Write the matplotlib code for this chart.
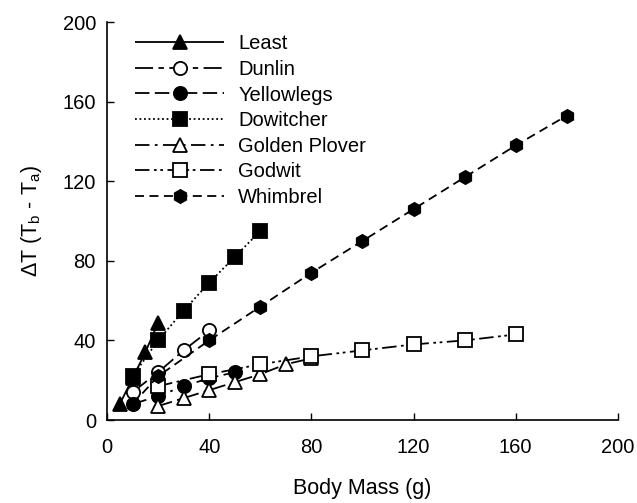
import matplotlib
matplotlib.use("Agg")
import matplotlib.pyplot as plt

plt.rcParams['font.family'] = ['Liberation Sans', 'DejaVu Sans']
plt.rcParams['mathtext.fontset'] = 'custom'
plt.rcParams['mathtext.rm'] = 'Liberation Sans'
plt.rcParams['mathtext.it'] = 'Liberation Sans:italic'

least_x = [5, 10, 15, 20]
least_y = [8, 21, 34, 49]
dunlin_x = [10, 20, 30, 40]
dunlin_y = [14, 24, 35, 45]
yellowlegs_x = [10, 20, 30, 40, 50]
yellowlegs_y = [8, 12, 17, 21, 24]
dowitcher_x = [10, 20, 30, 40, 50, 60]
dowitcher_y = [22, 40, 55, 69, 82, 95]
plover_x = [20, 30, 40, 50, 60, 70, 80]
plover_y = [7, 11, 15, 19, 23, 28, 31]
godwit_x = [20, 40, 60, 80, 100, 120, 140, 160]
godwit_y = [17, 23, 28, 32, 35, 38, 40, 43]
whimbrel_x = [10, 20, 40, 60, 80, 100, 120, 140, 160, 180]
whimbrel_y = [8, 22, 40, 57, 74, 90, 106, 122, 138, 153]

fig = plt.figure(figsize=(6.37, 5.03), dpi=100)
ax = fig.add_axes([0.168, 0.165, 0.802, 0.791])

lw = 1.3
ms = 9.5
series = [
    ("Least", least_x, least_y, '^', 'black', (0, ())),
    ("Dunlin", dunlin_x, dunlin_y, 'o', 'white', (0, (10, 3, 3, 3))),
    ("Yellowlegs", yellowlegs_x, yellowlegs_y, 'o', 'black', (0, (8, 3, 8, 3, 1.5, 3))),
    ("Dowitcher", dowitcher_x, dowitcher_y, 's', 'black', (0, (1, 1.5))),
    ("Golden Plover", plover_x, plover_y, '^', 'white', (0, (8, 3, 1.5, 3))),
    ("Godwit", godwit_x, godwit_y, 's', 'white', (0, (8, 2.5, 1.5, 2, 1.5, 2.5))),
    ("Whimbrel", whimbrel_x, whimbrel_y, 'h', 'black', (0, (5, 3))),
]
for name, x, y, m, fc, ls in series:
    ax.plot(x, y, linestyle=ls, color='black', lw=lw, marker=m, markersize=ms,
            markerfacecolor=fc, markeredgecolor='black', markeredgewidth=1.3,
            label=name)

ax.set_xlim(0, 200)
ax.set_ylim(0, 200)
ax.set_xticks([0, 40, 80, 120, 160, 200])
ax.set_yticks([0, 40, 80, 120, 160, 200])
ax.tick_params(direction='in', length=5, width=1, labelsize=14.5)
ax.tick_params(axis='x', pad=13)
ax.tick_params(axis='y', pad=8)
for s in ['top', 'right']:
    ax.spines[s].set_visible(False)
for s in ['left', 'bottom']:
    ax.spines[s].set_linewidth(1.2)

ax.set_xlabel("Body Mass (g)", fontsize=15.5, labelpad=15)
ax.set_ylabel(r"ΔT (T$_\mathrm{b}$ - T$_\mathrm{a}$)", fontsize=15.5, labelpad=13)

leg = ax.legend(loc='upper left', bbox_to_anchor=(0.028, 1.005), frameon=False,
                fontsize=14.5, handlelength=4.4, handletextpad=0.7,
                labelspacing=0.33, borderaxespad=0.3)

fig.savefig("out.png", dpi=100)
